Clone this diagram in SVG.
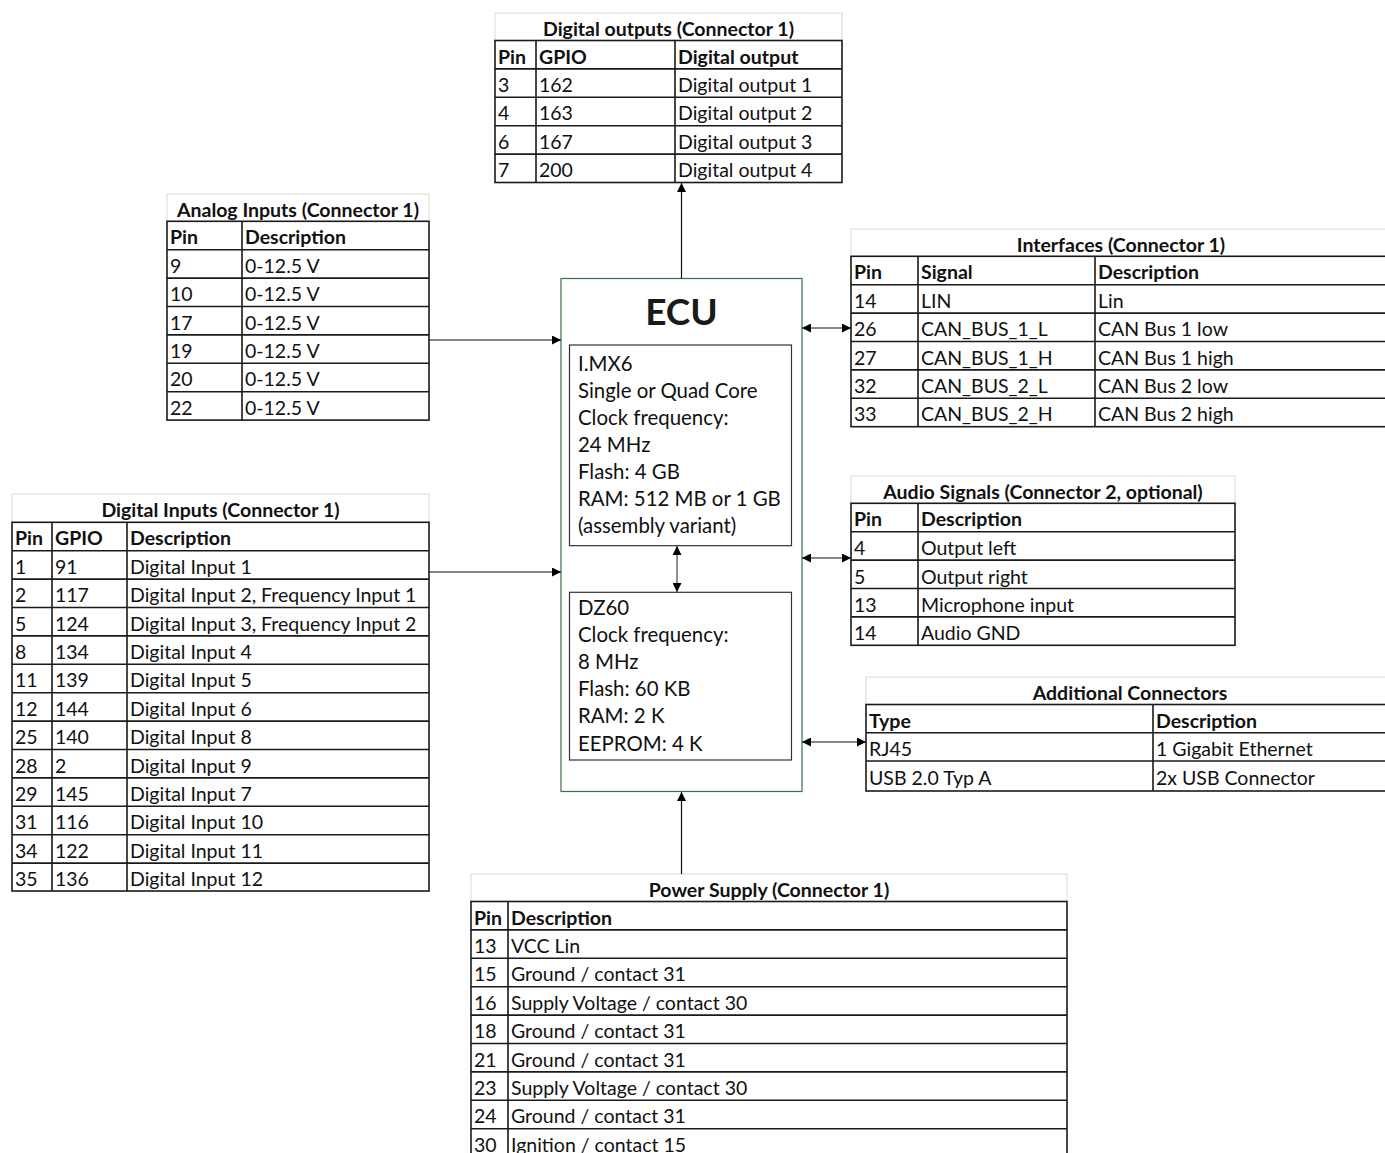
<svg xmlns="http://www.w3.org/2000/svg" width="1385" height="1153" viewBox="0 0 1385 1153">
<style>
.bg{fill:#fff}
.ttl{fill:#fff;stroke:#d9d9d9;stroke-width:1}
.grid{fill:none;stroke:#1a1a1a;stroke-width:1.6}
.t{font-family:Lato,"Liberation Sans",sans-serif;font-size:19.5px;fill:#111}
.b{font-weight:bold}
.c{text-anchor:middle}
.ecu{fill:#fff;stroke:#3d6e45;stroke-width:1.2}
.box{fill:#fff;stroke:#333;stroke-width:1.2}
.et{font-family:Lato,"Liberation Sans",sans-serif;font-size:20.4px;fill:#111}
.conn{stroke:#111;stroke-width:1.2;fill:none}
.conn2{stroke:#777;stroke-width:1.6;fill:none}
</style>
<defs>
<marker id="ah" viewBox="0 0 10 10" refX="10" refY="5" markerUnits="userSpaceOnUse" markerWidth="9" markerHeight="9" orient="auto-start-reverse">
<path d="M0,0 L10,5 L0,10 z" fill="#000"/>
</marker>
</defs>
<rect class="bg" x="0" y="0" width="1385" height="1153"/>

<g id="digital-outputs">
<rect class="ttl" x="495" y="13" width="347" height="27.5"/>
<rect class="grid" x="495" y="40.5" width="347" height="142"/>
<path class="grid" d="M495,68.9H842M495,97.3H842M495,125.7H842M495,154.1H842M536,40.5V182.5M675,40.5V182.5"/>
<text class="t b c" x="668.5" y="36">Digital outputs (Connector 1)</text>
<text class="t b" x="498" y="63.5">Pin</text><text class="t b" x="539" y="63.5">GPIO</text><text class="t b" x="678" y="63.5">Digital output</text>
<text class="t" x="498" y="91.9">3</text><text class="t" x="539" y="91.9">162</text><text class="t" x="678" y="91.9">Digital output 1</text>
<text class="t" x="498" y="120.3">4</text><text class="t" x="539" y="120.3">163</text><text class="t" x="678" y="120.3">Digital output 2</text>
<text class="t" x="498" y="148.7">6</text><text class="t" x="539" y="148.7">167</text><text class="t" x="678" y="148.7">Digital output 3</text>
<text class="t" x="498" y="177.1">7</text><text class="t" x="539" y="177.1">200</text><text class="t" x="678" y="177.1">Digital output 4</text>
</g>

<g id="analog-inputs">
<rect class="ttl" x="167" y="194" width="262" height="27.3"/>
<rect class="grid" x="167" y="221.3" width="262" height="198.8"/>
<path class="grid" d="M167,249.7H429M167,278.1H429M167,306.5H429M167,334.9H429M167,363.3H429M167,391.7H429M242,221.3V420.1"/>
<text class="t b c" x="298" y="216.5">Analog Inputs (Connector 1)</text>
<text class="t b" x="170" y="244.3">Pin</text><text class="t b" x="245" y="244.3">Description</text>
<text class="t" x="170" y="272.7">9</text><text class="t" x="245" y="272.7">0-12.5 V</text>
<text class="t" x="170" y="301.1">10</text><text class="t" x="245" y="301.1">0-12.5 V</text>
<text class="t" x="170" y="329.5">17</text><text class="t" x="245" y="329.5">0-12.5 V</text>
<text class="t" x="170" y="357.9">19</text><text class="t" x="245" y="357.9">0-12.5 V</text>
<text class="t" x="170" y="386.3">20</text><text class="t" x="245" y="386.3">0-12.5 V</text>
<text class="t" x="170" y="414.7">22</text><text class="t" x="245" y="414.7">0-12.5 V</text>
</g>

<g id="digital-inputs">
<rect class="ttl" x="12" y="494" width="417" height="28.3"/>
<rect class="grid" x="12" y="522.3" width="417" height="368.7"/>
<path class="grid" d="M12,550.7H429M12,579.1H429M12,607.5H429M12,635.9H429M12,664.3H429M12,692.7H429M12,721.1H429M12,749.5H429M12,777.9H429M12,806.3H429M12,834.7H429M12,863.1H429M52,522.3V891M127,522.3V891"/>
<text class="t b c" x="220.5" y="517">Digital Inputs (Connector 1)</text>
<text class="t b" x="15" y="545.3">Pin</text><text class="t b" x="55" y="545.3">GPIO</text><text class="t b" x="130" y="545.3">Description</text>
<text class="t" x="15" y="573.7">1</text><text class="t" x="55" y="573.7">91</text><text class="t" x="130" y="573.7">Digital Input 1</text>
<text class="t" x="15" y="602.1">2</text><text class="t" x="55" y="602.1">117</text><text class="t" x="130" y="602.1">Digital Input 2, Frequency Input 1</text>
<text class="t" x="15" y="630.5">5</text><text class="t" x="55" y="630.5">124</text><text class="t" x="130" y="630.5">Digital Input 3, Frequency Input 2</text>
<text class="t" x="15" y="658.9">8</text><text class="t" x="55" y="658.9">134</text><text class="t" x="130" y="658.9">Digital Input 4</text>
<text class="t" x="15" y="687.3">11</text><text class="t" x="55" y="687.3">139</text><text class="t" x="130" y="687.3">Digital Input 5</text>
<text class="t" x="15" y="715.7">12</text><text class="t" x="55" y="715.7">144</text><text class="t" x="130" y="715.7">Digital Input 6</text>
<text class="t" x="15" y="744.1">25</text><text class="t" x="55" y="744.1">140</text><text class="t" x="130" y="744.1">Digital Input 8</text>
<text class="t" x="15" y="772.5">28</text><text class="t" x="55" y="772.5">2</text><text class="t" x="130" y="772.5">Digital Input 9</text>
<text class="t" x="15" y="800.9">29</text><text class="t" x="55" y="800.9">145</text><text class="t" x="130" y="800.9">Digital Input 7</text>
<text class="t" x="15" y="829.3">31</text><text class="t" x="55" y="829.3">116</text><text class="t" x="130" y="829.3">Digital Input 10</text>
<text class="t" x="15" y="857.7">34</text><text class="t" x="55" y="857.7">122</text><text class="t" x="130" y="857.7">Digital Input 11</text>
<text class="t" x="15" y="886.1">35</text><text class="t" x="55" y="886.1">136</text><text class="t" x="130" y="886.1">Digital Input 12</text>
</g>

<g id="interfaces">
<rect class="ttl" x="851" y="229" width="540" height="27.3"/>
<rect class="grid" x="851" y="256.3" width="540" height="170.4"/>
<path class="grid" d="M851,284.7H1391M851,313.1H1391M851,341.5H1391M851,369.9H1391M851,398.3H1391M918,256.3V426.7M1095,256.3V426.7"/>
<text class="t b c" x="1121" y="251.5">Interfaces (Connector 1)</text>
<text class="t b" x="854" y="279.3">Pin</text><text class="t b" x="921" y="279.3">Signal</text><text class="t b" x="1098" y="279.3">Description</text>
<text class="t" x="854" y="307.7">14</text><text class="t" x="921" y="307.7">LIN</text><text class="t" x="1098" y="307.7">Lin</text>
<text class="t" x="854" y="336.1">26</text><text class="t" x="921" y="336.1">CAN_BUS_1_L</text><text class="t" x="1098" y="336.1">CAN Bus 1 low</text>
<text class="t" x="854" y="364.5">27</text><text class="t" x="921" y="364.5">CAN_BUS_1_H</text><text class="t" x="1098" y="364.5">CAN Bus 1 high</text>
<text class="t" x="854" y="392.9">32</text><text class="t" x="921" y="392.9">CAN_BUS_2_L</text><text class="t" x="1098" y="392.9">CAN Bus 2 low</text>
<text class="t" x="854" y="421.3">33</text><text class="t" x="921" y="421.3">CAN_BUS_2_H</text><text class="t" x="1098" y="421.3">CAN Bus 2 high</text>
</g>

<g id="audio-signals">
<rect class="ttl" x="851" y="476" width="384" height="27.3"/>
<rect class="grid" x="851" y="503.3" width="384" height="142"/>
<path class="grid" d="M851,531.7H1235M851,560.1H1235M851,588.5H1235M851,616.9H1235M918,503.3V645.3"/>
<text class="t b c" x="1043" y="499">Audio Signals (Connector 2, optional)</text>
<text class="t b" x="854" y="526.3">Pin</text><text class="t b" x="921" y="526.3">Description</text>
<text class="t" x="854" y="554.7">4</text><text class="t" x="921" y="554.7">Output left</text>
<text class="t" x="854" y="584">5</text><text class="t" x="921" y="584">Output right</text>
<text class="t" x="854" y="611.5">13</text><text class="t" x="921" y="611.5">Microphone input</text>
<text class="t" x="854" y="639.9">14</text><text class="t" x="921" y="639.9">Audio GND</text>
</g>

<g id="additional-connectors">
<rect class="ttl" x="866" y="677" width="528" height="27.5"/>
<rect class="grid" x="866" y="704.5" width="528" height="86.5"/>
<path class="grid" d="M866,732.7H1394M866,761H1394M1153,704.5V791"/>
<text class="t b c" x="1130" y="700">Additional Connectors</text>
<text class="t b" x="869" y="727.5">Type</text><text class="t b" x="1156" y="727.5">Description</text>
<text class="t" x="869" y="755.7">RJ45</text><text class="t" x="1156" y="755.7">1 Gigabit Ethernet</text>
<text class="t" x="869" y="785">USB 2.0 Typ A</text><text class="t" x="1156" y="785">2x USB Connector</text>
</g>

<g id="power-supply">
<rect class="ttl" x="471" y="874" width="596" height="27.5"/>
<rect class="grid" x="471" y="901.5" width="596" height="255.6"/>
<path class="grid" d="M471,929.9H1067M471,958.3H1067M471,986.7H1067M471,1015.1H1067M471,1043.5H1067M471,1071.9H1067M471,1100.3H1067M471,1128.7H1067M508,901.5V1160"/>
<text class="t b c" x="769" y="896.5">Power Supply (Connector 1)</text>
<text class="t b" x="474" y="924.5">Pin</text><text class="t b" x="511" y="924.5">Description</text>
<text class="t" x="474" y="952.9">13</text><text class="t" x="511" y="952.9">VCC Lin</text>
<text class="t" x="474" y="981.3">15</text><text class="t" x="511" y="981.3">Ground / contact 31</text>
<text class="t" x="474" y="1009.7">16</text><text class="t" x="511" y="1009.7">Supply Voltage / contact 30</text>
<text class="t" x="474" y="1038.1">18</text><text class="t" x="511" y="1038.1">Ground / contact 31</text>
<text class="t" x="474" y="1066.5">21</text><text class="t" x="511" y="1066.5">Ground / contact 31</text>
<text class="t" x="474" y="1094.9">23</text><text class="t" x="511" y="1094.9">Supply Voltage / contact 30</text>
<text class="t" x="474" y="1123.3">24</text><text class="t" x="511" y="1123.3">Ground / contact 31</text>
<text class="t" x="474" y="1151.7">30</text><text class="t" x="511" y="1151.7">Ignition / contact 15</text>
</g>

<g id="ecu">
<rect class="ecu" x="561" y="278.5" width="241" height="513"/>
<text x="681.5" y="325" style="font-family:Lato,'Liberation Sans',sans-serif;font-size:37px;font-weight:bold;fill:#1a1a1a" text-anchor="middle">ECU</text>
<g id="imx6">
<rect class="box" x="569.5" y="345" width="222" height="200.7"/>
<text class="et" x="578" y="371.4">I.MX6</text>
<text class="et" x="578" y="398.4">Single or Quad Core</text>
<text class="et" x="578" y="425.4">Clock frequency:</text>
<text class="et" x="578" y="452.4">24 MHz</text>
<text class="et" x="578" y="479.4">Flash: 4 GB</text>
<text class="et" x="578" y="506.4">RAM: 512 MB or 1 GB</text>
<text class="et" x="578" y="533.4">(assembly variant)</text>
</g>
<g id="dz60">
<rect class="box" x="569.5" y="592.3" width="222" height="167.7"/>
<text class="et" x="578" y="615">DZ60</text>
<text class="et" x="578" y="642.1">Clock frequency:</text>
<text class="et" x="578" y="669.2">8 MHz</text>
<text class="et" x="578" y="696.3">Flash: 60 KB</text>
<text class="et" x="578" y="723.4">RAM: 2 K</text>
<text class="et" x="578" y="750.5">EEPROM: 4 K</text>
</g>
</g>

<g id="connectors">
<line class="conn" x1="429" y1="340" x2="561" y2="340" marker-end="url(#ah)"/>
<line class="conn" x1="429" y1="572" x2="561" y2="572" marker-end="url(#ah)"/>
<line class="conn" x1="681.5" y1="278.5" x2="681.5" y2="183" marker-end="url(#ah)"/>
<line class="conn" x1="681.5" y1="874" x2="681.5" y2="792" marker-end="url(#ah)"/>
<line class="conn" x1="802" y1="328" x2="851" y2="328" marker-start="url(#ah)" marker-end="url(#ah)"/>
<line class="conn" x1="802" y1="558" x2="851" y2="558" marker-start="url(#ah)" marker-end="url(#ah)"/>
<line class="conn" x1="802" y1="742" x2="866" y2="742" marker-start="url(#ah)" marker-end="url(#ah)"/>
<line class="conn2" x1="677" y1="546" x2="677" y2="592" marker-start="url(#ah)" marker-end="url(#ah)"/>
</g>
</svg>
